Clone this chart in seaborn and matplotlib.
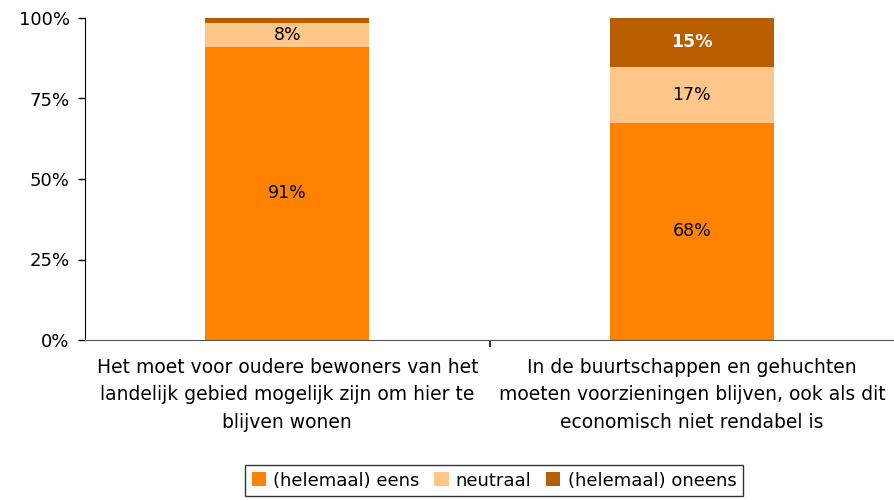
import numpy as np
import pandas as pd
import matplotlib
matplotlib.use("Agg")
import matplotlib.pyplot as plt
import seaborn as sns
from matplotlib.patches import Patch

# Data
categories = [
    "Het moet voor oudere bewoners van het\nlandelijk gebied mogelijk zijn om hier te\nblijven wonen",
    "In de buurtschappen en gehuchten\nmoeten voorzieningen blijven, ook als dit\neconomisch niet rendabel is",
]
series = ["(helemaal) eens", "neutraal", "(helemaal) oneens"]
eens = [91.0, 67.4]
neutraal = [7.4, 17.4]
oneens = [1.6, 15.2]
labels_eens = ["91%", "68%"]
labels_neutraal = ["8%", "17%"]
labels_oneens = ["", "15%"]
colors = ["#FF8300", "#FFC689", "#B95E00"]

sns.set_style("white")
plt.rcParams["font.family"] = ["DejaVu Sans"]
plt.rcParams["text.color"] = "black"
plt.rcParams["xtick.color"] = "black"
plt.rcParams["ytick.color"] = "black"

fig = plt.figure(figsize=(8.95, 5.0), dpi=100)
ax = fig.add_axes([0.095, 0.32, 0.904, 0.644])

values = [eens, neutraal, oneens]
labels = [labels_eens, labels_neutraal, labels_oneens]
bottom = np.zeros(len(categories))
for name, vals, col, labs in zip(series, values, colors, labels):
    df = pd.DataFrame({"cat": categories, "val": vals})
    sns.barplot(data=df, x="cat", y="val", bottom=bottom, color=col,
                width=0.405, saturation=1, ax=ax, errorbar=None, linewidth=0)
    for i, (v, lab) in enumerate(zip(vals, labs)):
        if lab:
            white = name == "(helemaal) oneens"
            ax.text(i, bottom[i] + v / 2, lab, ha="center", va="center",
                    fontsize=12.5, color="white" if white else "black",
                    fontweight="bold" if white else "normal")
    bottom = bottom + np.array(vals)

ax.set_xlim(-0.5, 1.5)
ax.set_ylim(0, 100)
ax.set_yticks([0, 25, 50, 75, 100])
ax.set_yticklabels(["0%", "25%", "50%", "75%", "100%"], fontsize=13)
ax.set_xlabel("")
ax.set_ylabel("")
ax.tick_params(axis="y", direction="out", length=5, width=1, color="black", pad=6, left=True)
ax.tick_params(axis="x", length=0, pad=13)
ax.set_xticks([0.5], minor=True)
ax.tick_params(axis="x", which="minor", direction="out", length=5, width=1.2, color="black", bottom=True)
for lab in ax.get_xticklabels():
    lab.set_fontsize(13.5)
    lab.set_linespacing(1.55)
for s in ["top", "right"]:
    ax.spines[s].set_visible(False)
ax.spines["left"].set_color("black")
ax.spines["bottom"].set_color("#555555")

handles = [Patch(facecolor=c, edgecolor="none") for c in colors]
leg = fig.legend(handles, series, loc="lower center", bbox_to_anchor=(0.552, -0.01),
                 ncol=3, frameon=True, fancybox=False, fontsize=13,
                 handlelength=0.8, handleheight=0.8, handletextpad=0.4,
                 columnspacing=0.8, borderpad=0.35)
leg.get_frame().set_edgecolor("black")
leg.get_frame().set_linewidth(1)

fig.savefig("out.png", dpi=100)
